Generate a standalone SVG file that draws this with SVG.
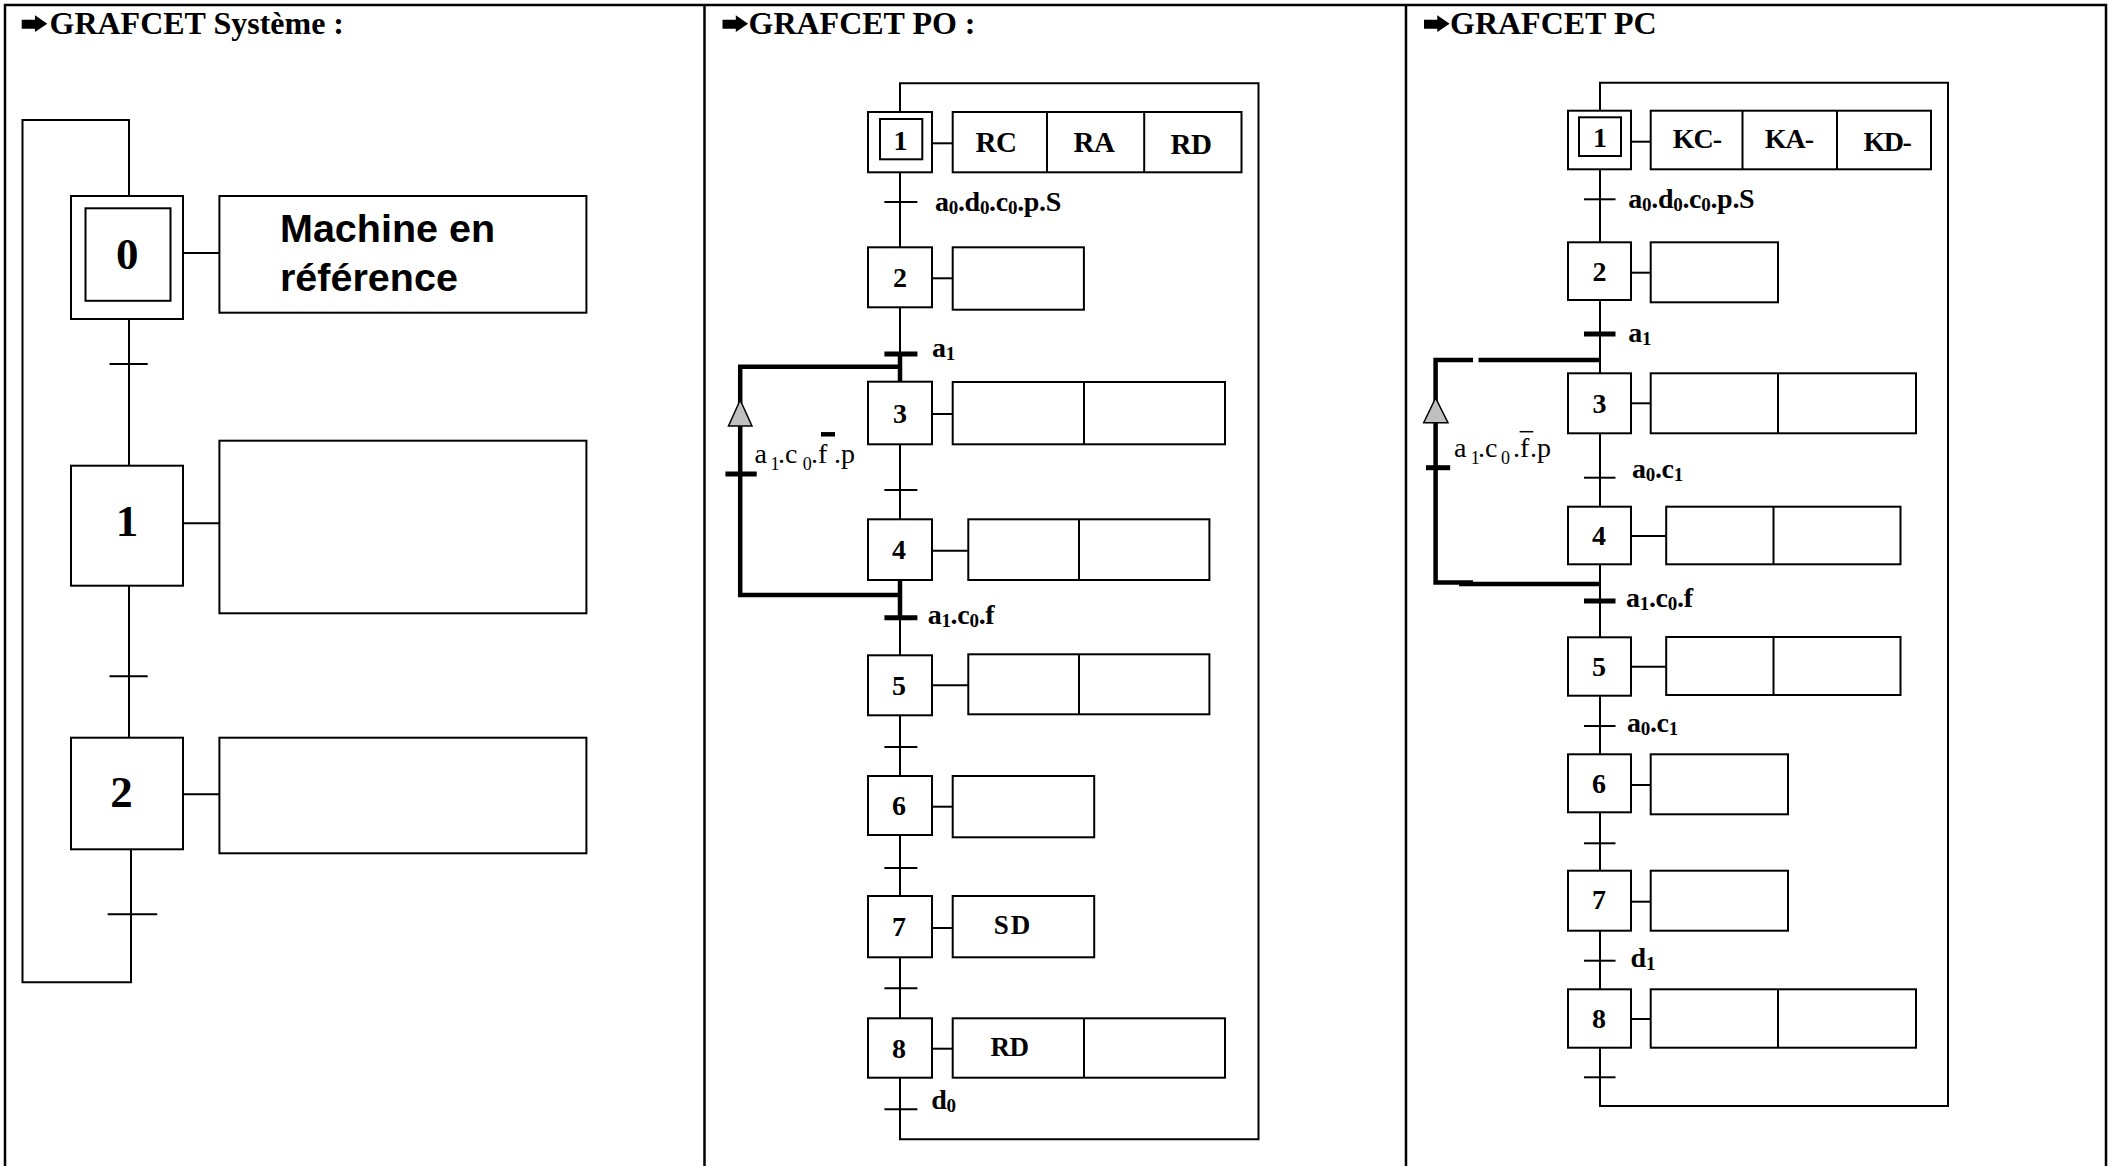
<svg xmlns="http://www.w3.org/2000/svg" width="2116" height="1166" viewBox="0 0 2116 1166">
  <style>
    .frame { fill: none; stroke: #000; stroke-width: 2.5; }
    .ln { fill: none; stroke: #000; stroke-width: 2; }
    .thick { fill: none; stroke: #000; stroke-width: 4.5; }
    .tr { stroke: #000; stroke-width: 2; }
    .trk { stroke: #000; stroke-width: 5; }
    .box { fill: #fff; stroke: #000; stroke-width: 2; }
    .head { font-family: "Liberation Serif", "Times New Roman", serif; font-weight: bold; font-size: 32px; }
    .bullet { fill: #000; }
    .num { font-family: "Liberation Serif", "Times New Roman", serif; font-weight: bold; font-size: 28px; text-anchor: middle; }
    .bignum { font-family: "Liberation Serif", "Times New Roman", serif; font-weight: bold; font-size: 45px; text-anchor: middle; }
    .act { font-family: "Liberation Serif", "Times New Roman", serif; font-weight: bold; font-size: 29px; text-anchor: middle; letter-spacing: -0.5px; }
    .sans { font-family: "Liberation Sans", Arial, sans-serif; font-weight: bold; font-size: 39.5px; }
    .cond { font-family: "Liberation Serif", "Times New Roman", serif; font-weight: bold; font-size: 28px; letter-spacing: -0.3px; }
    .cond tspan.s { font-size: 19px; }
    .loopc { font-family: "Liberation Serif", "Times New Roman", serif; font-size: 28px; }
    .loopc tspan.s { font-size: 18px; }
    .tip { fill: #c0c0c0; stroke: #000; stroke-width: 1.5; }
  </style>

  <defs>
    <!-- heavy right arrow used as heading bullet -->
    <polygon id="bullet" points="0,19.7 13.3,19.7 13.3,15.3 25.6,23.7 13.3,32 13.3,28.7 0,28.7"/>
  </defs>

  <!-- table frame with three columns -->
  <g id="table">
    <path class="frame" d="M5 1170 V5 H2106 V1170"/>
    <line class="frame" x1="704.5" y1="5" x2="704.5" y2="1170"/>
    <line class="frame" x1="1406" y1="5" x2="1406" y2="1170"/>
  </g>

  <!-- column headings -->
  <g id="headings">
    <use href="#bullet" class="bullet" x="21.7" y="0"/>
    <text class="head" x="49.5" y="34">GRAFCET Système :</text>
    <use href="#bullet" class="bullet" x="722.5" y="0"/>
    <text class="head" x="748.5" y="34">GRAFCET PO :</text>
    <use href="#bullet" class="bullet" x="1424" y="0"/>
    <text class="head" x="1450" y="34">GRAFCET PC</text>
  </g>

  <!-- links, loops and transitions -->
  <g id="connectors">
    <!-- system grafcet -->
    <path class="ln" d="M129 196 V120 H22.5 V982.3 H131 V849"/>
    <line class="ln" x1="129" y1="319" x2="129" y2="466"/>
    <line class="ln" x1="129" y1="586" x2="129" y2="738"/>
    <line class="tr" x1="109.5" y1="364" x2="147.7" y2="364"/>
    <line class="tr" x1="109.5" y1="676.3" x2="147.7" y2="676.3"/>
    <line class="tr" x1="107.7" y1="914.3" x2="157.2" y2="914.3"/>

    <!-- PO grafcet -->
    <path class="ln" d="M900 112 V83.3 H1258.5 V1139.3 H900 V1077.7"/>
    <line class="ln" x1="900" y1="172.3" x2="900" y2="247.3"/>
    <line class="ln" x1="900" y1="307.3" x2="900" y2="354"/>
    <line class="ln" x1="900" y1="444.3" x2="900" y2="519.3"/>
    <line class="ln" x1="900" y1="617.7" x2="900" y2="655.3"/>
    <line class="ln" x1="900" y1="715.3" x2="900" y2="776"/>
    <line class="ln" x1="900" y1="835" x2="900" y2="896"/>
    <line class="ln" x1="900" y1="957.3" x2="900" y2="1018.3"/>
    <path class="thick" d="M900 354 V382"/>
    <path class="thick" d="M900 366.7 H740.2 V595 H900"/>
    <path class="thick" d="M900 580 V618"/>
    <polygon class="tip" points="740.2,400 728.5,426 752,426"/>
    <line class="trk" x1="725.4" y1="474" x2="756.7" y2="474"/>
    <line class="tr" x1="884.4" y1="202" x2="917.4" y2="202"/>
    <line class="trk" x1="884.4" y1="354" x2="917.4" y2="354"/>
    <line class="tr" x1="884.4" y1="490" x2="917.4" y2="490"/>
    <line class="trk" x1="884.4" y1="617.7" x2="917.4" y2="617.7"/>
    <line class="tr" x1="884.4" y1="747" x2="917.4" y2="747"/>
    <line class="tr" x1="884.4" y1="868" x2="917.4" y2="868"/>
    <line class="tr" x1="884.4" y1="988.3" x2="917.4" y2="988.3"/>
    <line class="tr" x1="884.4" y1="1109.3" x2="917.4" y2="1109.3"/>

    <!-- PC grafcet -->
    <path class="ln" d="M1600 110.7 V82.7 H1948 V1106 H1600 V1047.7"/>
    <line class="ln" x1="1600" y1="169.3" x2="1600" y2="242.3"/>
    <line class="ln" x1="1600" y1="300" x2="1600" y2="373.3"/>
    <line class="ln" x1="1600" y1="433.3" x2="1600" y2="506.7"/>
    <line class="ln" x1="1600" y1="564.3" x2="1600" y2="637.3"/>
    <line class="ln" x1="1600" y1="695.7" x2="1600" y2="754.3"/>
    <line class="ln" x1="1600" y1="812.3" x2="1600" y2="870.7"/>
    <line class="ln" x1="1600" y1="930.7" x2="1600" y2="989.3"/>
    <path class="thick" d="M1473 360 H1435.6 V582.5 H1473"/>
    <line class="thick" x1="1478.5" y1="360" x2="1600" y2="360"/>
    <line class="thick" x1="1459" y1="584" x2="1600" y2="584"/>
    <polygon class="tip" points="1435.6,398 1423.7,422.7 1448,422.7"/>
    <line class="trk" x1="1426" y1="467.7" x2="1450.2" y2="467.7"/>
    <line class="tr" x1="1584" y1="199.3" x2="1615.5" y2="199.3"/>
    <line class="trk" x1="1584" y1="334" x2="1615.5" y2="334"/>
    <line class="tr" x1="1584" y1="477.7" x2="1615.5" y2="477.7"/>
    <line class="trk" x1="1584" y1="601" x2="1615.5" y2="601"/>
    <line class="tr" x1="1584" y1="726" x2="1615.5" y2="726"/>
    <line class="tr" x1="1584" y1="843.3" x2="1615.5" y2="843.3"/>
    <line class="tr" x1="1584" y1="960.7" x2="1615.5" y2="960.7"/>
    <line class="tr" x1="1584" y1="1077.3" x2="1615.5" y2="1077.3"/>
  </g>

  <!-- transition conditions -->
  <g id="conditions">
    <text class="cond" x="935" y="210.7">a<tspan class="s" dy="3">0</tspan><tspan dy="-3">.d</tspan><tspan class="s" dy="3">0</tspan><tspan dy="-3">.c</tspan><tspan class="s" dy="3">0</tspan><tspan dy="-3">.p.S</tspan></text>
    <text class="cond" x="932" y="356.7">a<tspan class="s" dy="3">1</tspan></text>
    <text class="cond" x="927.7" y="624.3">a<tspan class="s" dy="3">1</tspan><tspan dy="-3">.c</tspan><tspan class="s" dy="3">0</tspan><tspan dy="-3">.f</tspan></text>
    <text class="cond" x="931.3" y="1109">d<tspan class="s" dy="3">0</tspan></text>
    <text class="loopc" y="462.7"><tspan x="754.5">a</tspan><tspan class="s" x="770.5" dy="7">1</tspan><tspan x="778" dy="-7">.c</tspan><tspan class="s" x="802.7" dy="7">0</tspan><tspan x="811" dy="-7">.f</tspan><tspan x="834">.p</tspan></text>
    <line x1="821" y1="434.3" x2="835" y2="434.3" stroke="#000" stroke-width="4.5"/>

    <text class="cond" x="1628.3" y="208.3">a<tspan class="s" dy="3">0</tspan><tspan dy="-3">.d</tspan><tspan class="s" dy="3">0</tspan><tspan dy="-3">.c</tspan><tspan class="s" dy="3">0</tspan><tspan dy="-3">.p.S</tspan></text>
    <text class="cond" x="1628.3" y="341.7">a<tspan class="s" dy="3">1</tspan></text>
    <text class="cond" x="1632" y="477.7">a<tspan class="s" dy="3">0</tspan><tspan dy="-3">.c</tspan><tspan class="s" dy="3">1</tspan></text>
    <text class="cond" x="1626" y="607.3">a<tspan class="s" dy="3">1</tspan><tspan dy="-3">.c</tspan><tspan class="s" dy="3">0</tspan><tspan dy="-3">.f</tspan></text>
    <text class="cond" x="1627" y="732.3">a<tspan class="s" dy="3">0</tspan><tspan dy="-3">.c</tspan><tspan class="s" dy="3">1</tspan></text>
    <text class="cond" x="1630.6" y="966.7">d<tspan class="s" dy="3">1</tspan></text>
    <text class="loopc" y="457.3"><tspan x="1453.9">a</tspan><tspan class="s" x="1470.8" dy="7">1</tspan><tspan x="1478" dy="-7">.c</tspan><tspan class="s" x="1501" dy="7">0</tspan><tspan x="1513" dy="-7">.f</tspan><tspan x="1530">.p</tspan></text>
    <line x1="1519.6" y1="431.7" x2="1533.3" y2="431.7" stroke="#000" stroke-width="1.5"/>
  </g>

  <!-- system grafcet steps -->
  <g id="sys-step-0">
    <rect class="box" x="71" y="196" width="112" height="123"/>
    <rect class="box" x="85.5" y="208.3" width="85" height="92.5"/>
    <text class="bignum" x="127.3" y="269">0</text>
    <line class="ln" x1="183" y1="253" x2="219.4" y2="253"/>
    <rect class="box" x="219.4" y="196" width="367" height="116.7"/>
    <text class="sans" x="280" y="241.5">Machine en</text>
    <text class="sans" x="280" y="291">référence</text>
  </g>
  <g id="sys-step-1">
    <rect class="box" x="71" y="465.7" width="112" height="120"/>
    <text class="bignum" x="127" y="536">1</text>
    <line class="ln" x1="183" y1="523.3" x2="219.4" y2="523.3"/>
    <rect class="box" x="219.4" y="440.7" width="367" height="172.6"/>
  </g>
  <g id="sys-step-2">
    <rect class="box" x="71" y="737.7" width="112" height="111.6"/>
    <text class="bignum" x="121.6" y="807">2</text>
    <line class="ln" x1="183" y1="794.3" x2="219.4" y2="794.3"/>
    <rect class="box" x="219.4" y="737.7" width="367" height="115.6"/>
  </g>

  <!-- PO grafcet steps -->
  <g id="po-step-1">
    <rect class="box" x="868" y="112" width="64" height="60.3"/>
    <rect class="box" x="880" y="119" width="42.3" height="40.3"/>
    <text class="num" x="900.5" y="149.5">1</text>
    <line class="ln" x1="932" y1="143.3" x2="952.7" y2="143.3"/>
    <rect class="box" x="952.7" y="112" width="288.8" height="60.3"/>
    <line class="ln" x1="1047" y1="112" x2="1047" y2="172.3"/>
    <line class="ln" x1="1144.2" y1="112" x2="1144.2" y2="172.3"/>
    <text class="act" x="996" y="151.5">RC</text>
    <text class="act" x="1094" y="151.5">RA</text>
    <text class="act" x="1191" y="154">RD</text>
  </g>
  <g id="po-step-2">
    <rect class="box" x="868" y="247.3" width="64" height="60"/>
    <text class="num" x="900" y="286.5">2</text>
    <line class="ln" x1="932" y1="278.3" x2="952.7" y2="278.3"/>
    <rect class="box" x="952.7" y="247.3" width="131.2" height="62.4"/>
  </g>
  <g id="po-step-3">
    <rect class="box" x="868" y="381.7" width="64" height="62.6"/>
    <text class="num" x="900" y="422.5">3</text>
    <line class="ln" x1="932" y1="414" x2="952.7" y2="414"/>
    <rect class="box" x="952.7" y="382" width="272.3" height="62.3"/>
    <line class="ln" x1="1084" y1="382" x2="1084" y2="444.3"/>
  </g>
  <g id="po-step-4">
    <rect class="box" x="868" y="519.3" width="64" height="60.7"/>
    <text class="num" x="899" y="559">4</text>
    <line class="ln" x1="932" y1="550.7" x2="968.3" y2="550.7"/>
    <rect class="box" x="968.3" y="519.3" width="241.1" height="60.7"/>
    <line class="ln" x1="1079" y1="519.3" x2="1079" y2="580"/>
  </g>
  <g id="po-step-5">
    <rect class="box" x="868" y="655.3" width="64" height="60"/>
    <text class="num" x="899" y="694.5">5</text>
    <line class="ln" x1="932" y1="685.3" x2="968.3" y2="685.3"/>
    <rect class="box" x="968.3" y="654.3" width="241.1" height="60"/>
    <line class="ln" x1="1079" y1="654.3" x2="1079" y2="714.3"/>
  </g>
  <g id="po-step-6">
    <rect class="box" x="868" y="776" width="64" height="59"/>
    <text class="num" x="899" y="815">6</text>
    <line class="ln" x1="932" y1="806.7" x2="952.7" y2="806.7"/>
    <rect class="box" x="952.7" y="776" width="141.5" height="61.3"/>
  </g>
  <g id="po-step-7">
    <rect class="box" x="868" y="896" width="64" height="61.3"/>
    <text class="num" x="899" y="935.5">7</text>
    <line class="ln" x1="932" y1="928" x2="952.7" y2="928"/>
    <rect class="box" x="952.7" y="896" width="141.5" height="61.3"/>
    <text class="act" x="1013" y="934" style="font-size:27px;letter-spacing:2px">SD</text>
  </g>
  <g id="po-step-8">
    <rect class="box" x="868" y="1018.3" width="64" height="59.4"/>
    <text class="num" x="899" y="1057.5">8</text>
    <line class="ln" x1="932" y1="1048.7" x2="952.7" y2="1048.7"/>
    <rect class="box" x="952.7" y="1018.3" width="272.3" height="59.4"/>
    <line class="ln" x1="1084" y1="1018.3" x2="1084" y2="1077.7"/>
    <text class="act" x="1009.4" y="1056" style="font-size:27px">RD</text>
  </g>

  <!-- PC grafcet steps -->
  <g id="pc-step-1">
    <rect class="box" x="1568" y="110.7" width="63" height="58.6"/>
    <rect class="box" x="1579" y="117.3" width="42" height="38.7"/>
    <text class="num" x="1600" y="147">1</text>
    <line class="ln" x1="1631" y1="141.7" x2="1650.7" y2="141.7"/>
    <rect class="box" x="1650.7" y="110.7" width="280.3" height="58.6"/>
    <line class="ln" x1="1742.5" y1="110.7" x2="1742.5" y2="169.3"/>
    <line class="ln" x1="1837" y1="110.7" x2="1837" y2="169.3"/>
    <text class="act" x="1697" y="147.5" style="font-size:28px;letter-spacing:-1px">KC-</text>
    <text class="act" x="1789" y="147.5" style="font-size:28px;letter-spacing:-1px">KA-</text>
    <text class="act" x="1887" y="151" style="font-size:28px;letter-spacing:-1.5px">KD-</text>
  </g>
  <g id="pc-step-2">
    <rect class="box" x="1568" y="242.3" width="63" height="57.7"/>
    <text class="num" x="1599.5" y="280.5">2</text>
    <line class="ln" x1="1631" y1="272.7" x2="1650.7" y2="272.7"/>
    <rect class="box" x="1650.7" y="242.3" width="127.3" height="60"/>
  </g>
  <g id="pc-step-3">
    <rect class="box" x="1568" y="373.3" width="63" height="60"/>
    <text class="num" x="1599.5" y="412.5">3</text>
    <line class="ln" x1="1631" y1="403.3" x2="1650.7" y2="403.3"/>
    <rect class="box" x="1650.7" y="373.3" width="265.3" height="60"/>
    <line class="ln" x1="1778" y1="373.3" x2="1778" y2="433.3"/>
  </g>
  <g id="pc-step-4">
    <rect class="box" x="1568" y="506.7" width="63" height="57.6"/>
    <text class="num" x="1599" y="545">4</text>
    <line class="ln" x1="1631" y1="536" x2="1666.2" y2="536"/>
    <rect class="box" x="1666.2" y="506.7" width="234.3" height="57.6"/>
    <line class="ln" x1="1773.5" y1="506.7" x2="1773.5" y2="564.3"/>
  </g>
  <g id="pc-step-5">
    <rect class="box" x="1568" y="637.3" width="63" height="58.4"/>
    <text class="num" x="1599" y="676">5</text>
    <line class="ln" x1="1631" y1="666.7" x2="1666.2" y2="666.7"/>
    <rect class="box" x="1666.2" y="637" width="234.3" height="58"/>
    <line class="ln" x1="1773.5" y1="637" x2="1773.5" y2="695"/>
  </g>
  <g id="pc-step-6">
    <rect class="box" x="1568" y="754.3" width="63" height="58"/>
    <text class="num" x="1599" y="793">6</text>
    <line class="ln" x1="1631" y1="785" x2="1650.7" y2="785"/>
    <rect class="box" x="1650.7" y="754.3" width="137.3" height="60"/>
  </g>
  <g id="pc-step-7">
    <rect class="box" x="1568" y="870.7" width="63" height="60"/>
    <text class="num" x="1599" y="909">7</text>
    <line class="ln" x1="1631" y1="901.7" x2="1650.7" y2="901.7"/>
    <rect class="box" x="1650.7" y="870.7" width="137.3" height="60"/>
  </g>
  <g id="pc-step-8">
    <rect class="box" x="1568" y="989.3" width="63" height="58.4"/>
    <text class="num" x="1599" y="1028">8</text>
    <line class="ln" x1="1631" y1="1019" x2="1650.7" y2="1019"/>
    <rect class="box" x="1650.7" y="989.3" width="265.3" height="58.4"/>
    <line class="ln" x1="1778" y1="989.3" x2="1778" y2="1047.7"/>
  </g>
</svg>
